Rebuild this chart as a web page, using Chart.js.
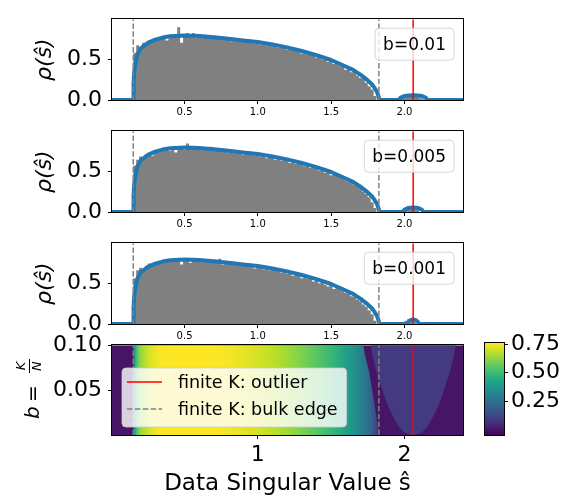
<!DOCTYPE html>
<html>
<head>
<meta charset="utf-8">
<script src="https://cdn.jsdelivr.net/npm/chart.js@4.4.0/dist/chart.umd.min.js"></script>
<style>
  body { margin: 0; background: #fff; overflow: hidden; }
  #wrap { position: relative; width: 573px; height: 500px; }
  #wrap canvas { position: absolute; left: 0; }
</style>
</head>
<body>
<div id="wrap">
  <canvas id="panel1" width="573" height="127" style="top:0px"></canvas>
  <canvas id="panel2" width="573" height="127" style="top:112px"></canvas>
  <canvas id="panel3" width="573" height="127" style="top:224px"></canvas>
  <canvas id="heat" width="573" height="174" style="top:326px"></canvas>
  <canvas id="cbar" width="573" height="174" style="top:326px"></canvas>
</div>
<script>
const FONT = 'DejaVu Sans';

// fitted bulk density rho(s), same for the three b values shown
const bulkS   = [0, 0.149, 0.152, 0.156, 0.165, 0.18, 0.2, 0.25, 0.3, 0.35, 0.4, 0.5, 0.6, 0.7, 0.8, 0.9, 1.0,
                 1.1, 1.2, 1.3, 1.4, 1.5, 1.6, 1.65, 1.7, 1.75, 1.78, 1.8, 1.815, 1.825, 1.83];
const bulkRho = [0, 0, 0.2, 0.34, 0.45, 0.56, 0.63, 0.70, 0.74, 0.765, 0.78, 0.79, 0.785, 0.77, 0.75, 0.73, 0.71,
                 0.68, 0.645, 0.60, 0.55, 0.49, 0.41, 0.37, 0.31, 0.24, 0.19, 0.14, 0.09, 0.04, 0];

// outlier bump of the fitted density for each b
const bump1S   = [1.96, 1.975, 2.0, 2.03, 2.06, 2.09, 2.12, 2.145, 2.16];
const bump1Rho = [0, 0.03, 0.048, 0.056, 0.058, 0.056, 0.048, 0.03, 0];
const bump2S   = [1.99, 2.0, 2.02, 2.04, 2.06, 2.08, 2.10, 2.12, 2.13];
const bump2Rho = [0, 0.028, 0.045, 0.052, 0.054, 0.052, 0.045, 0.028, 0];
const bump3S   = [2.02, 2.03, 2.045, 2.06, 2.075, 2.09, 2.10];
const bump3Rho = [0, 0.03, 0.05, 0.055, 0.05, 0.03, 0];

// histograms of sampled singular values, bins of 0.02 from 0.15
const binStart = 0.15, binWidth = 0.02;
const hist1 = [0.40, 0.58, 0.67, 0.63, 0.70, 0.69, 0.73, 0.72, 0.76, 0.74,
               0.77, 0.76, 0.73, 0.79, 0.77, 0.78, 0.89, 0.70, 0.81, 0.82,
               0.80, 0.82, 0.76, 0.81, 0.77, 0.80, 0.78, 0.77, 0.75, 0.77,
               0.76, 0.74, 0.75, 0.77, 0.72, 0.74, 0.73, 0.71, 0.72, 0.73,
               0.71, 0.70, 0.69, 0.71, 0.68, 0.70, 0.67, 0.69, 0.66, 0.67,
               0.64, 0.66, 0.67, 0.62, 0.63, 0.61, 0.60, 0.62, 0.57, 0.58,
               0.56, 0.57, 0.54, 0.52, 0.53, 0.50, 0.51, 0.47, 0.48, 0.44,
               0.46, 0.42, 0.41, 0.37, 0.39, 0.34, 0.35, 0.30, 0.27, 0.26,
               0.21, 0.17, 0.13, 0.05];
const hist2 = [0.41, 0.57, 0.64, 0.68, 0.66, 0.71, 0.72, 0.69, 0.75, 0.76,
               0.74, 0.77, 0.78, 0.75, 0.77, 0.73, 0.79, 0.80, 0.76, 0.84,
               0.79, 0.78, 0.81, 0.77, 0.79, 0.76, 0.78, 0.80, 0.75, 0.76,
               0.78, 0.74, 0.76, 0.73, 0.75, 0.72, 0.74, 0.73, 0.70, 0.72,
               0.71, 0.72, 0.69, 0.70, 0.68, 0.71, 0.66, 0.68, 0.67, 0.64,
               0.66, 0.63, 0.64, 0.65, 0.60, 0.62, 0.59, 0.61, 0.58, 0.56,
               0.58, 0.54, 0.55, 0.53, 0.51, 0.52, 0.48, 0.50, 0.45, 0.49,
               0.44, 0.43, 0.42, 0.39, 0.37, 0.36, 0.33, 0.32, 0.29, 0.25,
               0.22, 0.18, 0.12, 0.05];
const hist3 = [0.42, 0.56, 0.66, 0.69, 0.64, 0.71, 0.74, 0.72, 0.74, 0.77,
               0.75, 0.78, 0.76, 0.79, 0.76, 0.77, 0.78, 0.73, 0.80, 0.77,
               0.75, 0.79, 0.78, 0.77, 0.78, 0.76, 0.79, 0.77, 0.75, 0.78,
               0.80, 0.73, 0.76, 0.74, 0.75, 0.73, 0.72, 0.74, 0.71, 0.73,
               0.70, 0.71, 0.68, 0.72, 0.69, 0.67, 0.70, 0.66, 0.68, 0.65,
               0.68, 0.63, 0.65, 0.62, 0.63, 0.59, 0.61, 0.60, 0.56, 0.57,
               0.55, 0.58, 0.52, 0.53, 0.50, 0.51, 0.48, 0.46, 0.49, 0.43,
               0.45, 0.46, 0.40, 0.38, 0.37, 0.34, 0.33, 0.30, 0.28, 0.24,
               0.21, 0.17, 0.12, 0.04];
// outlier bins, also 0.02 wide, from 1.98
const outBinStart = 1.98;
const outHist1 = [0.02, 0.04, 0.05, 0.06, 0.05, 0.05, 0.04, 0.02, 0.01];
const outHist2 = [0, 0.03, 0.05, 0.06, 0.05, 0.04, 0.03, 0, 0];
const outHist3 = [0, 0, 0.04, 0.06, 0.05, 0.02, 0, 0, 0];

// finite K predictions
const bulkEdgeS = [0.15, 1.826];
const outlierS = 2.06;

// density map over b = K/N
const heatB              = [0, 0.001, 0.0025, 0.005, 0.01, 0.02, 0.03, 0.04, 0.05, 0.06, 0.07, 0.08, 0.09, 0.10];
const heatBulkEdge       = [1.83, 1.83, 1.828, 1.826, 1.82, 1.81, 1.80, 1.79, 1.78, 1.77, 1.76, 1.745, 1.73, 1.72];
const heatOutlierHalfW   = [0, 0.035, 0.055, 0.075, 0.10, 0.135, 0.165, 0.19, 0.21, 0.23, 0.25, 0.265, 0.28, 0.29];
const heatOutlierDensity = 0.09;

// ticks
const panelXTicks = [0.5, 1.0, 1.5, 2.0];
const panelYTicks = [0, 0.5];
const heatXTicks = [1, 2];
const heatYTicks = [0.05, 0.10];
const cbarTicks = [0.25, 0.50, 0.75];

const panelLabels = ['b=0.01', 'b=0.005', 'b=0.001'];
const legendLabels = ['finite K: outlier', 'finite K: bulk edge'];

const xMin = 0.005, xMax = 2.4;
const cMin = -0.045, cMax = 0.76;

const viridisStops = ['#440154', '#482475', '#414487', '#355f8d', '#2a788e', '#21918c',
                      '#22a884', '#44bf70', '#7ad151', '#bddf26', '#fde725'];

function hexRgb(h) {
    return [parseInt(h.slice(1, 3), 16), parseInt(h.slice(3, 5), 16), parseInt(h.slice(5, 7), 16)];
}

function viridis(t) {
    const n = viridisStops.length - 1;
    t = Math.min(1, Math.max(0, t)) * n;
    const i = Math.min(Math.floor(t), n - 1), f = t - i;
    const a = hexRgb(viridisStops[i]), b = hexRgb(viridisStops[i + 1]);
    const c = a.map((v, k) => Math.round(v + (b[k] - v) * f));
    return 'rgb(' + c.join(',') + ')';
}

function colorFor(v) {
    return viridis((v - cMin) / (cMax - cMin));
}

function roundBox(ctx, x, y, w, h, r) {
    ctx.beginPath();
    ctx.moveTo(x + r, y);
    ctx.arcTo(x + w, y, x + w, y + h, r);
    ctx.arcTo(x + w, y + h, x, y + h, r);
    ctx.arcTo(x, y + h, x, y, r);
    ctx.arcTo(x, y, x + w, y, r);
    ctx.closePath();
}

function clipArea(ctx, a) {
    ctx.beginPath();
    ctx.rect(a.left, a.top, a.right - a.left, a.bottom - a.top);
    ctx.clip();
}

// dashed bulk edges and red outlier line
function drawPredictions(chart) {
    const {ctx, chartArea: a, scales: {x}} = chart;
    ctx.save();
    clipArea(ctx, a);
    ctx.lineWidth = 1.5;
    ctx.strokeStyle = '#808080';
    ctx.setLineDash([5.5, 2.4]);
    bulkEdgeS.forEach(function (s) {
        const px = x.getPixelForValue(s);
        ctx.beginPath();
        ctx.moveTo(px, a.bottom);
        ctx.lineTo(px, a.top);
        ctx.stroke();
    });
    ctx.setLineDash([]);
    ctx.strokeStyle = '#ff0000';
    const px = x.getPixelForValue(outlierS);
    ctx.beginPath();
    ctx.moveTo(px, a.bottom);
    ctx.lineTo(px, a.top);
    ctx.stroke();
    ctx.restore();
}

const framePlugin = {
    id: 'frame',
    afterDraw(chart) {
        const {ctx, chartArea: a} = chart;
        ctx.save();
        ctx.strokeStyle = '#000';
        ctx.lineWidth = 1;
        ctx.strokeRect(Math.round(a.left) - 0.5, Math.round(a.top) - 0.5,
                       Math.round(a.right - a.left) + 1, Math.round(a.bottom - a.top) + 1);
        ctx.restore();
    }
};

function panelPlugin(label) {
    return {
        id: 'panelDecor',
        afterDatasetsDraw(chart) {
            drawPredictions(chart);
            const {ctx, chartArea: a} = chart;
            ctx.save();
            ctx.font = '17px "' + FONT + '"';
            const w = ctx.measureText(label).width + 16, h = 32;
            const x0 = a.right - 9 - w, y0 = a.top + 9;
            roundBox(ctx, x0, y0, w, h, 4);
            ctx.fillStyle = 'rgba(255,255,255,0.8)';
            ctx.fill();
            ctx.strokeStyle = 'rgba(204,204,204,0.8)';
            ctx.lineWidth = 1;
            ctx.stroke();
            ctx.fillStyle = '#000';
            ctx.textBaseline = 'middle';
            ctx.fillText(label, x0 + 8, y0 + h / 2 + 1);
            ctx.restore();
        }
    };
}

const tickGrid = { display: true, drawOnChartArea: false, drawTicks: true, tickLength: 4,
                   color: '#000', tickColor: '#000', lineWidth: 1 };

function histPoints(values, outValues) {
    const pts = values.map((v, i) => ({x: binStart + i * binWidth, y: v}));
    pts.push({x: binStart + values.length * binWidth, y: 0});
    outValues.forEach((v, i) => pts.push({x: outBinStart + i * binWidth, y: v}));
    pts.push({x: outBinStart + outValues.length * binWidth, y: 0});
    return pts;
}

function makePanel(id, label, hist, outHist, bumpS, bumpRho) {
    const curve = bulkS.map((s, i) => ({x: s, y: bulkRho[i]}))
        .concat(bumpS.map((s, i) => ({x: s, y: bumpRho[i]})));
    curve.push({x: xMax, y: 0});

    new Chart(document.getElementById(id), {
        type: 'line',
        data: {
            datasets: [{
                data: curve,
                borderColor: '#1f77b4',
                borderWidth: 4,
                borderJoinStyle: 'round',
                borderCapStyle: 'round',
                pointRadius: 0,
                tension: 0,
                fill: false,
                clip: 0,
                order: 0
            }, {
                data: histPoints(hist, outHist),
                stepped: 'after',
                borderColor: 'rgba(0,0,0,0)',
                borderWidth: 0,
                backgroundColor: '#808080',
                fill: 'origin',
                pointRadius: 0,
                clip: 0,
                order: 1
            }]
        },
        options: {
            responsive: false,
            animation: false,
            devicePixelRatio: 1,
            layout: { padding: { left: 0, right: 110, top: 7, bottom: 0 } },
            plugins: { legend: { display: false }, tooltip: { enabled: false } },
            scales: {
                x: {
                    type: 'linear', min: xMin, max: xMax,
                    afterFit: axis => { axis.height = 27; },
                    afterBuildTicks: axis => { axis.ticks = panelXTicks.map(v => ({value: v})); },
                    ticks: { font: { family: FONT, size: 10 }, color: '#000', padding: 2,
                             maxRotation: 0, autoSkip: false, callback: v => Number(v).toFixed(1) },
                    grid: tickGrid,
                    border: { display: false }
                },
                y: {
                    type: 'linear', min: 0, max: 0.99,
                    afterFit: axis => { axis.width = 112; },
                    afterBuildTicks: axis => { axis.ticks = panelYTicks.map(v => ({value: v})); },
                    ticks: { font: { family: FONT, size: 22 }, color: '#000', padding: 6,
                             autoSkip: false, callback: v => Number(v).toFixed(1) },
                    grid: tickGrid,
                    border: { display: false },
                    title: { display: true, text: 'ρ(ŝ)', color: '#000',
                             font: { family: FONT, size: 22, style: 'italic' },
                             padding: { top: 32, bottom: 0 } }
                }
            }
        },
        plugins: [panelPlugin(label), framePlugin]
    });
}

makePanel('panel1', panelLabels[0], hist1, outHist1, bump1S, bump1Rho);
makePanel('panel2', panelLabels[1], hist2, outHist2, bump2S, bump2Rho);
makePanel('panel3', panelLabels[2], hist3, outHist3, bump3S, bump3Rho);

// density map: bulk colored by the fitted profile, outlier spread as a U around its location
const heatPlugin = {
    id: 'heatmap',
    beforeDatasetsDraw(chart) {
        const {ctx, chartArea: a, scales: {x, y}} = chart;
        ctx.save();
        clipArea(ctx, a);
        ctx.fillStyle = colorFor(0);
        ctx.fillRect(a.left, a.top, a.right - a.left, a.bottom - a.top);

        const x0 = x.getPixelForValue(bulkS[0]);
        const x1 = x.getPixelForValue(bulkS[bulkS.length - 1]);
        const g = ctx.createLinearGradient(x0, 0, x1, 0);
        bulkS.forEach((s, i) => g.addColorStop((x.getPixelForValue(s) - x0) / (x1 - x0), colorFor(bulkRho[i])));
        ctx.fillStyle = g;
        ctx.beginPath();
        ctx.moveTo(x.getPixelForValue(bulkEdgeS[0]), y.getPixelForValue(heatB[0]));
        heatB.forEach((b, i) => ctx.lineTo(x.getPixelForValue(heatBulkEdge[i]), y.getPixelForValue(b)));
        ctx.lineTo(x.getPixelForValue(bulkEdgeS[0]), y.getPixelForValue(heatB[heatB.length - 1]));
        ctx.closePath();
        ctx.fill();

        ctx.fillStyle = colorFor(heatOutlierDensity);
        ctx.beginPath();
        heatB.forEach((b, i) => {
            const px = x.getPixelForValue(outlierS - heatOutlierHalfW[i]), py = y.getPixelForValue(b);
            if (i === 0) ctx.moveTo(px, py); else ctx.lineTo(px, py);
        });
        for (let i = heatB.length - 1; i >= 0; i--) {
            ctx.lineTo(x.getPixelForValue(outlierS + heatOutlierHalfW[i]), y.getPixelForValue(heatB[i]));
        }
        ctx.closePath();
        ctx.fill();
        ctx.restore();
    },
    afterDatasetsDraw(chart) {
        drawPredictions(chart);
        const {ctx, chartArea: a} = chart;
        ctx.save();
        ctx.font = '17.5px "' + FONT + '"';
        const textW = Math.max.apply(null, legendLabels.map(t => ctx.measureText(t).width));
        const bx = a.left + 10, bw = 5 + 35 + 16 + textW + 9, bh = 59, by = a.bottom - 8 - bh;
        roundBox(ctx, bx, by, bw, bh, 4);
        ctx.fillStyle = 'rgba(255,255,255,0.8)';
        ctx.fill();
        ctx.strokeStyle = 'rgba(204,204,204,0.8)';
        ctx.lineWidth = 1;
        ctx.stroke();
        ctx.lineWidth = 1.5;
        legendLabels.forEach((t, i) => {
            const ly = by + 14 + i * 27;
            ctx.strokeStyle = i === 0 ? '#ff0000' : '#808080';
            ctx.setLineDash(i === 0 ? [] : [5.5, 2.4]);
            ctx.beginPath();
            ctx.moveTo(bx + 5, ly);
            ctx.lineTo(bx + 40, ly);
            ctx.stroke();
            ctx.fillStyle = '#000';
            ctx.textBaseline = 'middle';
            ctx.fillText(t, bx + 56, ly + 1);
        });
        ctx.restore();
    },
    afterDraw(chart) {
        // y label: b = K / N, rotated
        const {ctx, chartArea: a} = chart;
        ctx.save();
        ctx.translate(34, (a.top + a.bottom) / 2);
        ctx.rotate(-Math.PI / 2);
        ctx.fillStyle = '#000';
        ctx.textBaseline = 'middle';
        ctx.textAlign = 'left';
        ctx.font = 'italic 20px "' + FONT + '"';
        ctx.fillText('b', -29, 0);
        ctx.textAlign = 'center';
        ctx.font = '20px "' + FONT + '"';
        ctx.fillText('=', -3.5, 0);
        ctx.font = 'italic 13px "' + FONT + '"';
        ctx.fillText('K', 24, -12);
        ctx.fillText('N', 24, 4);
        ctx.fillRect(17, -5, 14, 1);
        ctx.restore();
    }
};

new Chart(document.getElementById('heat'), {
    type: 'line',
    data: { datasets: [{ data: [] }] },
    options: {
        responsive: false,
        animation: false,
        devicePixelRatio: 1,
        layout: { padding: { left: 0, right: 110, top: 17, bottom: 0 } },
        plugins: { legend: { display: false }, tooltip: { enabled: false } },
        scales: {
            x: {
                type: 'linear', min: xMin, max: xMax,
                afterFit: axis => { axis.height = 65; },
                afterBuildTicks: axis => { axis.ticks = heatXTicks.map(v => ({value: v})); },
                ticks: { font: { family: FONT, size: 22 }, color: '#000', padding: 3,
                         maxRotation: 0, autoSkip: false, callback: v => String(v) },
                grid: tickGrid,
                border: { display: false },
                title: { display: true, text: 'Data Singular Value ŝ', color: '#000',
                         font: { family: FONT, size: 23 }, padding: { top: 0, bottom: 2 } }
            },
            y: {
                type: 'linear', min: 0, max: 0.10,
                afterFit: axis => { axis.width = 112; },
                afterBuildTicks: axis => { axis.ticks = heatYTicks.map(v => ({value: v})); },
                ticks: { font: { family: FONT, size: 22 }, color: '#000', padding: 6,
                         autoSkip: false, callback: v => Number(v).toFixed(2) },
                grid: tickGrid,
                border: { display: false }
            }
        }
    },
    plugins: [heatPlugin, framePlugin]
});

// colorbar
const cbarPlugin = {
    id: 'cbarFill',
    beforeDatasetsDraw(chart) {
        const {ctx, chartArea: a, scales: {y}} = chart;
        const g = ctx.createLinearGradient(0, y.getPixelForValue(cMin), 0, y.getPixelForValue(cMax));
        viridisStops.forEach((c, i) => g.addColorStop(i / (viridisStops.length - 1), c));
        ctx.save();
        ctx.fillStyle = g;
        ctx.fillRect(a.left, a.top, a.right - a.left, a.bottom - a.top);
        ctx.restore();
    }
};

new Chart(document.getElementById('cbar'), {
    type: 'line',
    data: { datasets: [{ data: [] }] },
    options: {
        responsive: false,
        animation: false,
        devicePixelRatio: 1,
        layout: { padding: { left: 485, right: 0, top: 17, bottom: 65 } },
        plugins: { legend: { display: false }, tooltip: { enabled: false } },
        scales: {
            x: { type: 'linear', display: false, min: 0, max: 1 },
            y: {
                type: 'linear', position: 'right', min: cMin, max: cMax,
                afterFit: axis => { axis.width = 69; },
                afterBuildTicks: axis => { axis.ticks = cbarTicks.map(v => ({value: v})); },
                ticks: { font: { family: FONT, size: 22 }, color: '#000', padding: 3,
                         autoSkip: false, callback: v => Number(v).toFixed(2) },
                grid: tickGrid,
                border: { display: false }
            }
        }
    },
    plugins: [cbarPlugin, framePlugin]
});
</script>
</body>
</html>
